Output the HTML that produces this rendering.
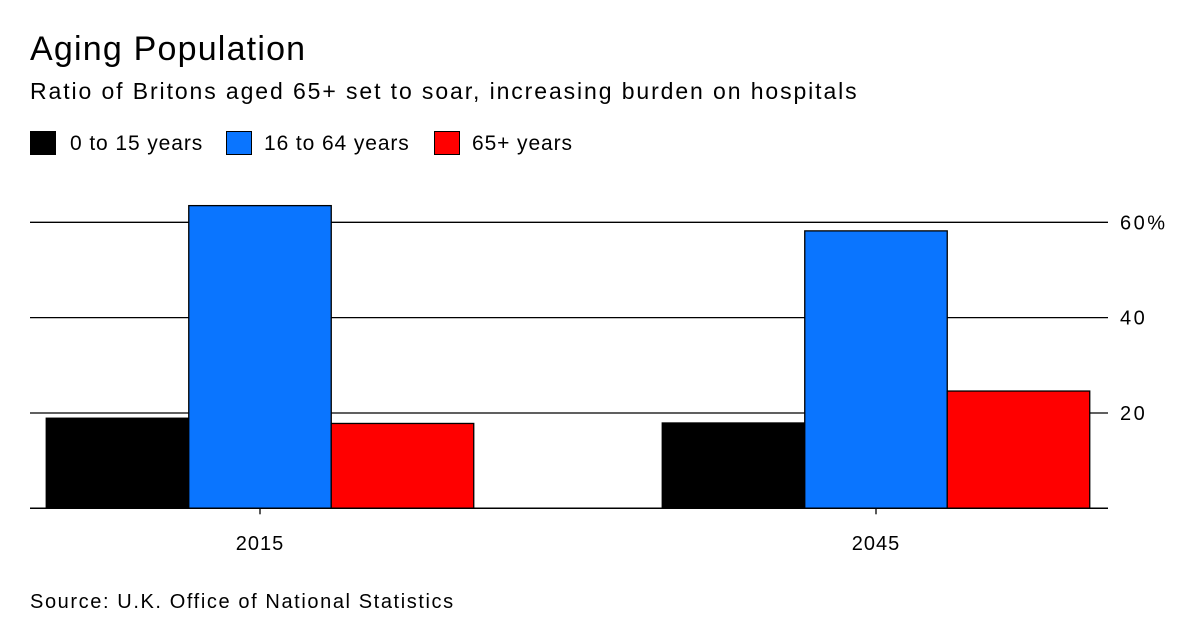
<!DOCTYPE html>
<html><head><meta charset="utf-8"><style>
body{margin:0;background:#fff;font-family:"Liberation Sans",sans-serif;}
#wrap{position:relative;width:1200px;height:637px;overflow:hidden;}
.t{position:absolute;white-space:nowrap;color:#000;}
</style></head><body>
<div id="wrap">
<div class="t" style="left:30px;top:30px;font-size:34px;letter-spacing:1.2px;">Aging Population</div>
<div class="t" style="left:30px;top:78px;font-size:23px;letter-spacing:1.9px;">Ratio of Britons aged 65+ set to soar, increasing burden on hospitals</div>
<div class="t" style="left:30px;top:131px;font-size:21px;letter-spacing:0.9px;"><span style="display:inline-block;width:26px;height:24px;background:#000;border:1px solid #000;box-sizing:border-box;vertical-align:-5px;margin-right:14px"></span>0 to 15 years</div>
<div class="t" style="left:226px;top:131px;font-size:21px;letter-spacing:0.9px;"><span style="display:inline-block;width:26px;height:24px;background:#0a75ff;border:1px solid #000;box-sizing:border-box;vertical-align:-5px;margin-right:12px"></span>16 to 64 years</div>
<div class="t" style="left:434px;top:131px;font-size:21px;letter-spacing:0.9px;"><span style="display:inline-block;width:26px;height:24px;background:#ff0000;border:1px solid #000;box-sizing:border-box;vertical-align:-5px;margin-right:12px"></span>65+ years</div>
<svg id="svg" width="1200" height="637" style="position:absolute;left:0;top:0"></svg>
<div class="t" style="left:30px;top:591px;font-size:20px;letter-spacing:1.6px;">Source: U.K. Office of National Statistics</div>
</div>
<script>
const categories=["2015","2045"];
const young=[18.9,17.9];
const working=[63.5,58.2];
const elderly=[17.8,24.6];
const ticks=[20,40,60];
const tickLabels=["20","40","60%"];
const colors=["#000000","#0a75ff","#ff0000"];
const seriesNames=["0-15","16-64","65plus"];
const ns="http://www.w3.org/2000/svg";
const svg=document.getElementById("svg");
const y0=508.3,pxPer=(508.3-222.3)/60;
const y=v=>y0-v*pxPer;
const left=30,right=1108;
const groupCenter=[260,876],barW=142.5;
function mk(t,a){const e=document.createElementNS(ns,t);for(const k in a)e.setAttribute(k,a[k]);svg.appendChild(e);return e;}
ticks.forEach((t,i)=>{
 const l=mk("line",{x1:left,x2:right,y1:y(t),y2:y(t),stroke:"#000","stroke-width":1.3});
 
 
 const tx=mk("text",{x:1120,y:y(t)+7,"font-size":20,"letter-spacing":"2.5","font-family":"Liberation Sans, sans-serif"});
 tx.textContent=tickLabels[i];
 
 
});
const series=[young,working,elderly];
categories.forEach((c,ci)=>{
 series.forEach((s,si)=>{
  const x=groupCenter[ci]+(si-1.5)*barW;
  const r=mk("rect",{x:x,y:y(s[ci]),width:barW,height:y0-y(s[ci]),fill:colors[si],stroke:"#000","stroke-width":1.3});
  
  
 });
 const tk=mk("line",{x1:groupCenter[ci],x2:groupCenter[ci],y1:y0,y2:y0+6,stroke:"#000","stroke-width":1.3});
 
 
 const lb=mk("text",{x:groupCenter[ci],y:550,"font-size":20,"letter-spacing":"1","text-anchor":"middle","font-family":"Liberation Sans, sans-serif"});
 lb.textContent=c;
 
 
});
const ax=mk("line",{x1:left,x2:right,y1:y0,y2:y0,stroke:"#000","stroke-width":1.5});


</script>
</body></html>
